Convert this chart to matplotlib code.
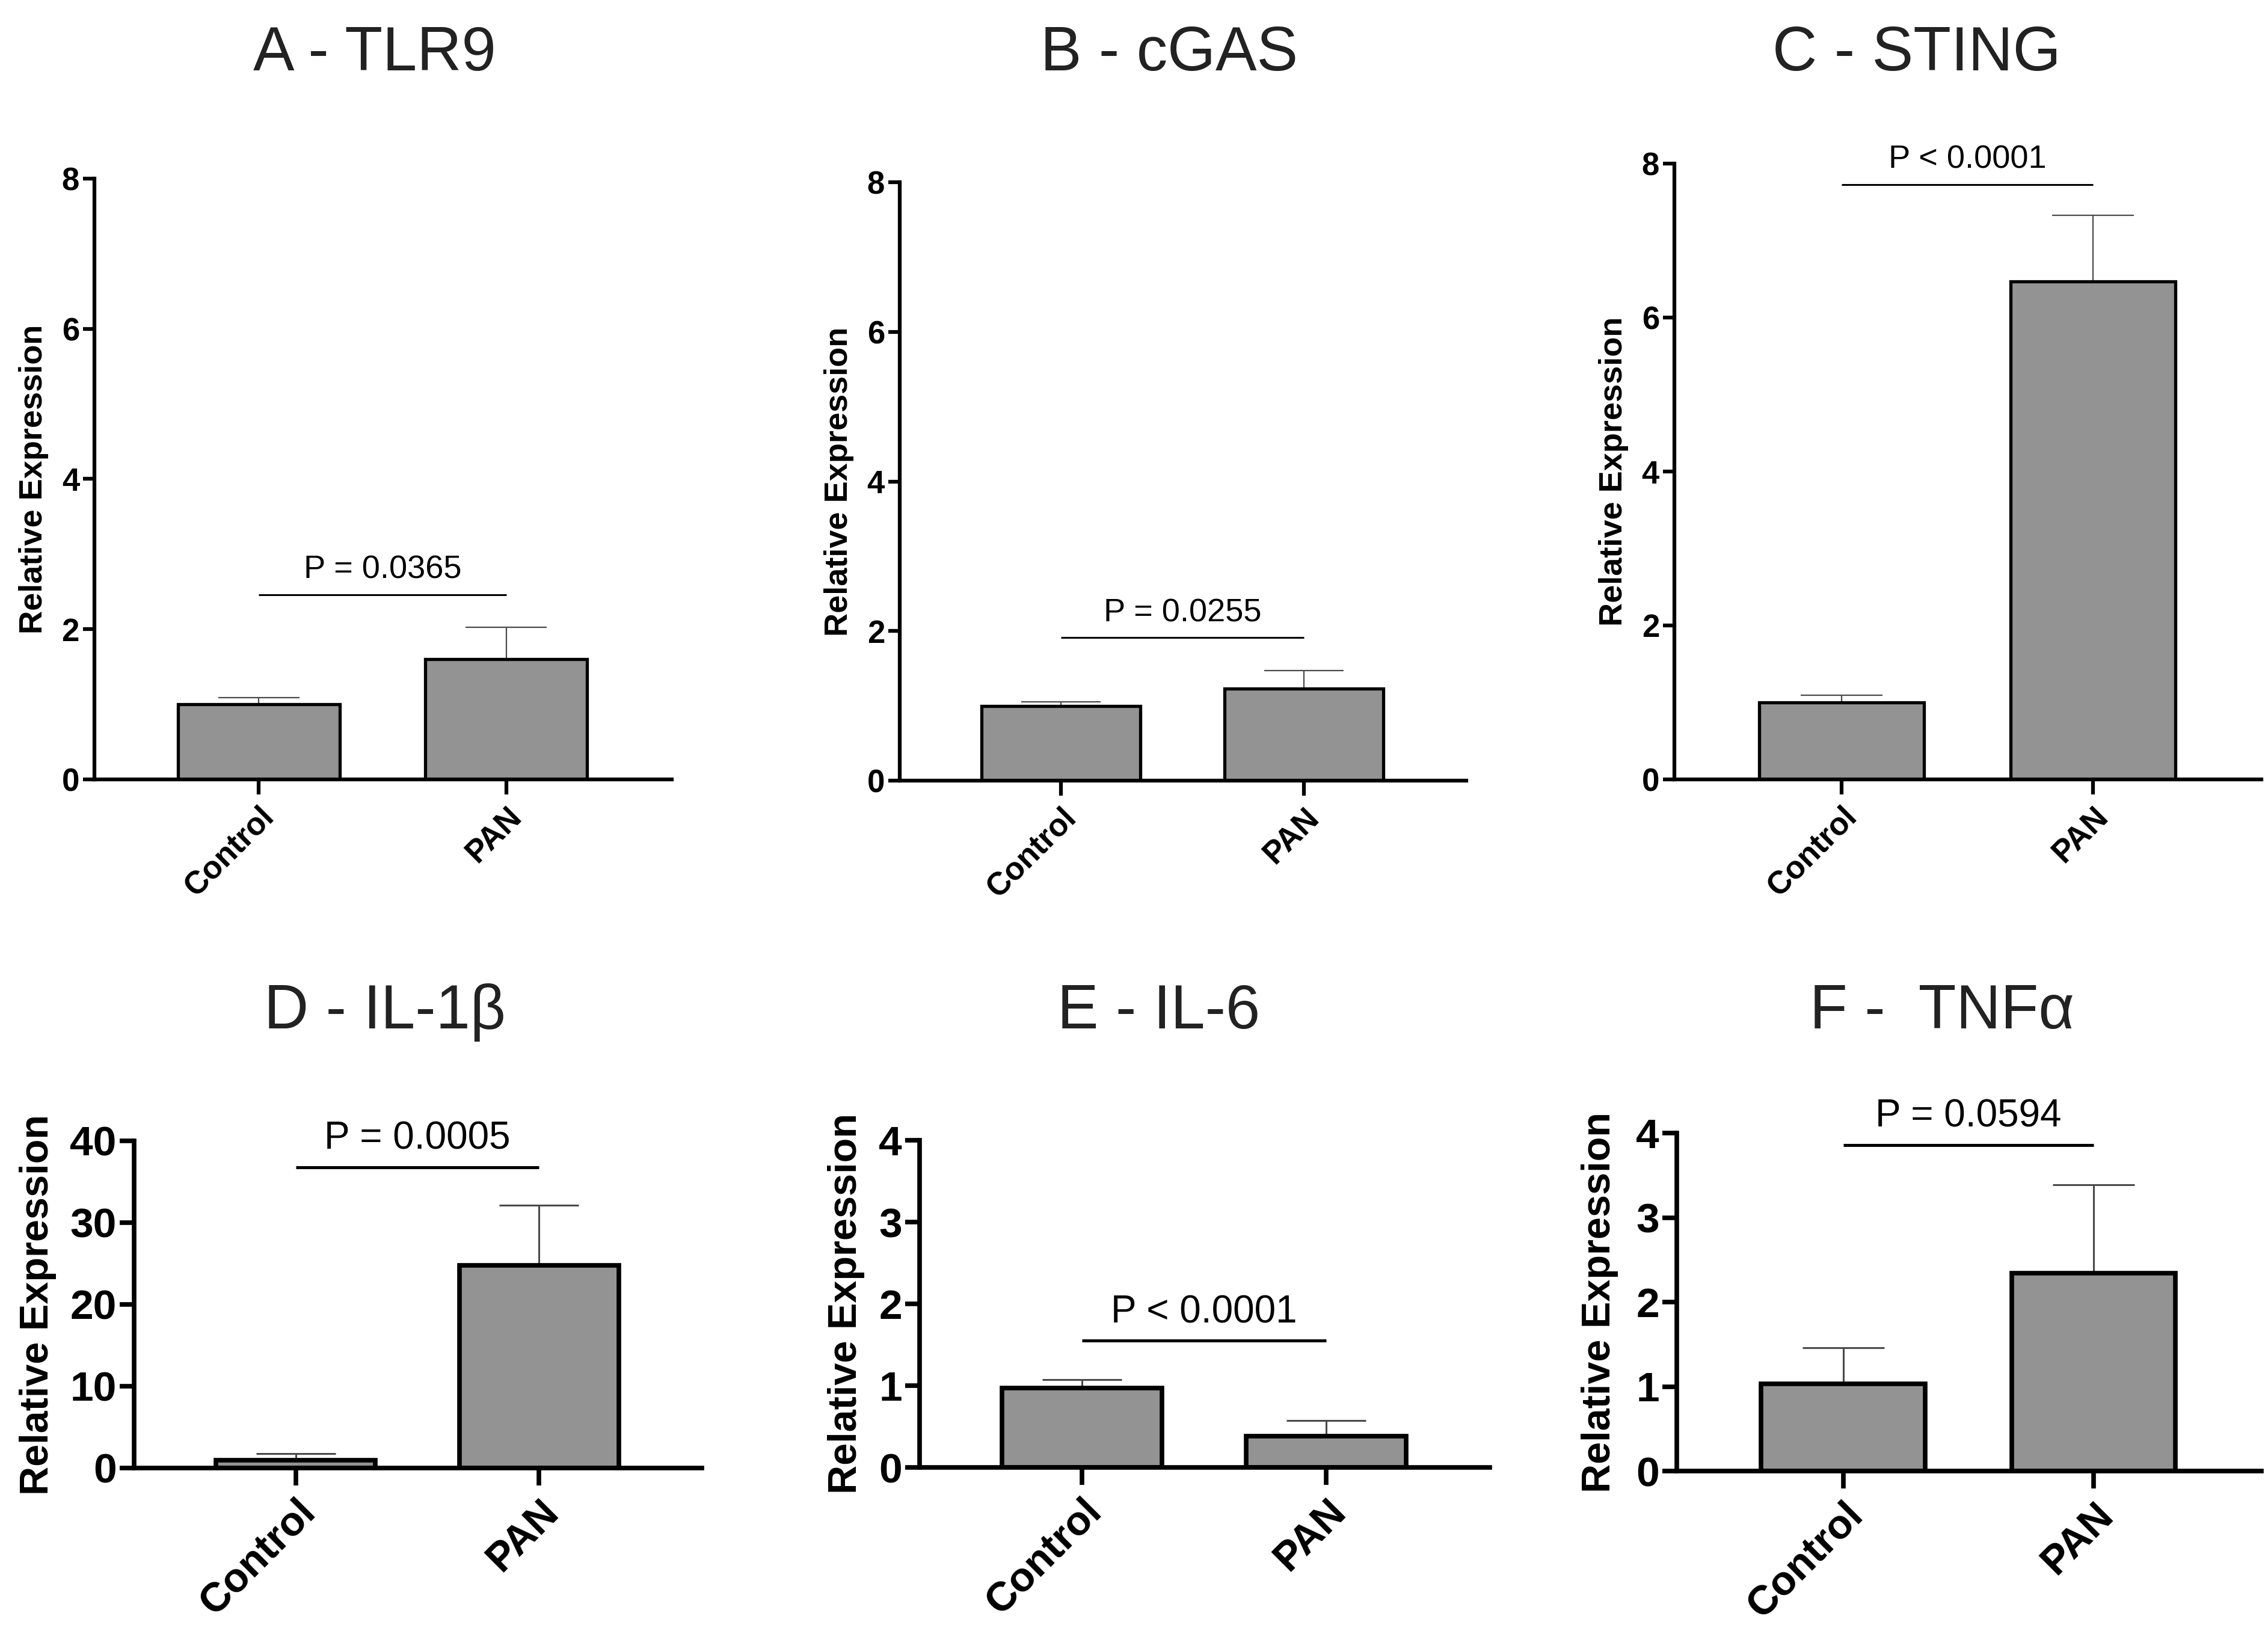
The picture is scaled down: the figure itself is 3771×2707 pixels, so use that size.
import numpy as np
import matplotlib
matplotlib.use('Agg')
import matplotlib.pyplot as plt

plt.rcParams['font.family'] = ['Liberation Sans', 'DejaVu Sans']

# values
titles = ['A - TLR9', 'B - cGAS', 'C - STING', 'D - IL-1β', 'E - IL-6', 'F -  TNFα']
groups = ['Control', 'PAN']
control_mean = [1.0, 1.0, 1.0, 0.95, 0.97, 1.03]
control_err = [0.09, 0.05, 0.09, 0.85, 0.1, 0.43]
pan_mean = [1.6, 1.23, 6.47, 24.8, 0.38, 2.34]
pan_err = [0.43, 0.24, 0.86, 7.3, 0.19, 1.05]
p_labels = ['P = 0.0365', 'P = 0.0255', 'P < 0.0001', 'P = 0.0005', 'P < 0.0001', 'P = 0.0594']
p_line_y = [2.46, 1.91, 7.73, 36.8, 1.55, 3.86]
y_max = [8, 8, 8, 40, 4, 4]
y_step = [2, 2, 2, 10, 1, 1]

W, H = 3771, 2707
DPI = 100

# axes boxes in pixels: left, right, top, bottom
boxes = [(157, 1117, 297, 1296), (1496, 2438, 303, 1298), (2784, 3760, 272, 1296),
         (223, 1167, 1897, 2441), (1529, 2477, 1896, 2440), (2788, 3760, 1884, 2446)]
title_pos = [(623, 117), (1944, 117), (3187, 117), (640, 1710), (1927, 1710), (3229, 1710)]

fig = plt.figure(figsize=(W / DPI, H / DPI), dpi=DPI)

for i in range(6):
    top_row = i < 3
    l, r, t, b = boxes[i]
    ax = fig.add_axes([l / W, 1 - b / H, (r - l) / W, (b - t) / H])

    lw_axis = 4.5 if top_row else 5.5
    lw_bar = 3.8 if top_row else 5.5
    lw_err = 1.6 if top_row else 2.2
    lw_sig = 2.2 if top_row else 3.6
    tick_fs = 38 if top_row else 50
    xtick_fs = 38 if top_row else 49
    ylab_fs = 39 if top_row else 48
    p_fs = 39 if top_row else 46
    tick_len = 14 if top_row else 17

    x = np.arange(len(groups))
    means = [control_mean[i], pan_mean[i]]
    errs = [control_err[i], pan_err[i]]
    bw = 0.655

    ax.vlines(x, means, np.add(means, errs), color='#4a4a4a', lw=lw_err, zorder=1)
    ax.hlines(np.add(means, errs), x - bw / 4, x + bw / 4, color='#4a4a4a', lw=lw_err, zorder=1)
    ax.bar(x, means, width=bw, color='#939393', edgecolor='black', linewidth=lw_bar, zorder=2)

    ax.plot([0, 1], [p_line_y[i], p_line_y[i]], color='black', lw=lw_sig, solid_capstyle='butt')
    ax.annotate(p_labels[i], xy=(0.5, p_line_y[i]), xytext=(0, 19.5 if top_row else 21.5),
                textcoords='offset points', ha='center', va='baseline', fontsize=p_fs)

    ax.set_xlim(-0.665, 1.67)
    ax.set_ylim(0, y_max[i])
    ax.set_yticks(np.arange(0, y_max[i] + 0.001, y_step[i]))
    ax.set_xticks(x)
    ax.set_xticklabels(groups, rotation=45, ha='right', va='top', rotation_mode='anchor',
                       fontsize=xtick_fs, fontweight='bold')
    for lab in ax.get_yticklabels():
        lab.set_fontweight('bold')
    ax.tick_params(axis='y', labelsize=tick_fs, length=tick_len, width=lw_axis, pad=4)
    ax.tick_params(axis='x', length=tick_len + 4, width=lw_axis, pad=8)

    for s in ['top', 'right']:
        ax.spines[s].set_visible(False)
    for s in ['left', 'bottom']:
        ax.spines[s].set_linewidth(lw_axis)

    ax.set_ylabel('Relative Expression', fontsize=ylab_fs, fontweight='bold', ha='center', va='center')
    off = 101 if top_row else [160, 122, 128][i - 3]
    ax.yaxis.set_label_coords(-off / (r - l), 0.5)
    ax.patch.set_alpha(0)

    tx, ty = title_pos[i]
    fig.text(tx / W, 1 - ty / H, titles[i], ha='center', va='baseline', fontsize=74, color='#222222')

fig.savefig('out.png', dpi=DPI)
